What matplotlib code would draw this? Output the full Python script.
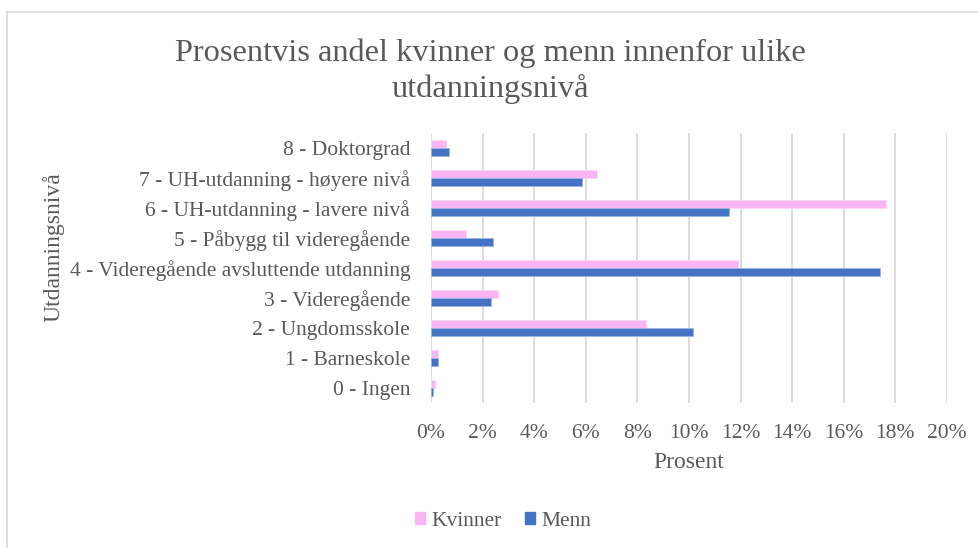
import matplotlib
matplotlib.use("Agg")
import matplotlib.pyplot as plt
from matplotlib.lines import Line2D
from matplotlib.patches import Patch
import numpy as np

# data, listed from bottom (0) to top (8)
categories = [
    "0 - Ingen",
    "1 - Barneskole",
    "2 - Ungdomsskole",
    "3 - Videregående",
    "4 - Videregående avsluttende utdanning",
    "5 - Påbygg til videregående",
    "6 - UH-utdanning - lavere nivå",
    "7 - UH-utdanning - høyere nivå",
    "8 - Doktorgrad",
]
kvinner = [0.16, 0.29, 8.32, 2.59, 11.90, 1.35, 17.64, 6.45, 0.58]
menn = [0.09, 0.27, 10.17, 2.34, 17.41, 2.40, 11.54, 5.87, 0.71]
x_ticks = list(range(0, 21, 2))

PINK = "#FBB5F2"
BLUE = "#4472C4"
TEXT = "#595959"
GRID = "#D9D9D9"

plt.rcParams["font.family"] = ["Liberation Serif", "DejaVu Serif"]

W, H = 979, 548
fig = plt.figure(figsize=(W / 100, H / 100), dpi=100)

# axes placed in pixel coordinates of the reference
left, right, top, bottom = 431, 947, 133, 403
ax = fig.add_axes([left / W, 1 - bottom / H, (right - left) / W, (bottom - top) / H])

y = np.arange(len(categories))
bh = 0.27
ax.barh(y + bh / 2, kvinner, height=bh, color=PINK, edgecolor="#FDD8F8", linewidth=0.6, label="Kvinner", zorder=3)
ax.barh(y - bh / 2, menn, height=bh, color=BLUE, edgecolor="#9DB5E2", linewidth=0.6, label="Menn", zorder=3)

ax.set_xlim(0, 20)
ax.set_ylim(-0.5, len(categories) - 0.5)
ax.set_xticks(x_ticks)
ax.set_xticklabels([f"{v}%" for v in x_ticks])
ax.set_yticks(y)
ax.set_yticklabels(categories)
ax.xaxis.grid(True, color=GRID, linewidth=1.3, zorder=0)
ax.set_axisbelow(True)
for s in ax.spines.values():
    s.set_visible(False)
ax.tick_params(axis="both", length=0, colors=TEXT, labelsize=15.5)
ax.tick_params(axis="x", pad=15)
ax.tick_params(axis="y", pad=15)

fig.text(689 / W, 1 - 463 / H, "Prosent", ha="center", va="center", fontsize=17, color=TEXT)
fig.text(54 / W, 1 - 247 / H, "Utdanningsnivå", ha="center", va="center", rotation=90, fontsize=17, color=TEXT)
fig.text(490 / W, 1 - 71 / H, "Prosentvis andel kvinner og menn innenfor ulike\nutdanningsnivå",
         ha="center", va="center", fontsize=23.3, color=TEXT, linespacing=1.25)

handles = [Patch(color=PINK), Patch(color=BLUE)]
fig.legend(handles, ["Kvinner", "Menn"], loc="center", bbox_to_anchor=(503 / W, 1 - 521 / H),
           ncol=2, frameon=False, fontsize=15.5, handlelength=0.45, handleheight=0.45,
           handletextpad=0.3, columnspacing=1.1, labelcolor=TEXT)

# chart area border (partly cropped in the reference)
fig.add_artist(Line2D([7 / W, 7 / W], [0, 1 - 12 / H], color=GRID, linewidth=1.2))
fig.add_artist(Line2D([7 / W, 1], [1 - 12 / H, 1 - 12 / H], color=GRID, linewidth=1.2))

fig.savefig("out.png", dpi=100)
